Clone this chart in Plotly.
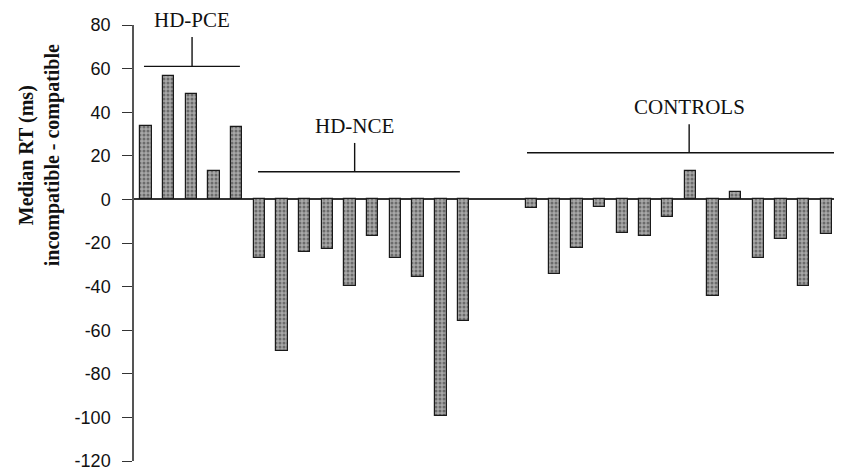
import plotly.graph_objects as go

# ---- data ----
group_names = ["HD-PCE", "HD-NCE", "CONTROLS"]
pce_values = [33.5, 56.5, 48.2, 13.0, 33.0]
nce_values = [-27.1, -69.5, -24.1, -22.7, -39.7, -17.0, -27.1, -35.8, -99.5, -55.6]
control_values = [-3.8, -34.0, -22.3, -3.3, -15.5, -17.0, -8.3, 13.0, -44.5, 3.5,
                  -27.0, -18.3, -39.7, -15.8]
y_ticks = [80, 60, 40, 20, 0, -20, -40, -60, -80, -100, -120]
y_title_lines = ["Median RT (ms)", "incompatible - compatible"]

groups = [pce_values, nce_values, control_values]
gaps_before = [0, 0, 2]  # empty slots before each group

# build slot positions
xs, ys, spans = [], [], []
pos = 0
for vals, gap in zip(groups, gaps_before):
    pos += gap
    start = pos
    for v in vals:
        xs.append(pos)
        ys.append(v)
        pos += 1
    spans.append((start, pos - 1))

x_min, x_max = -0.53, 30.69
y_min, y_max = -120, 80


def ypaper(v):
    return (v - y_min) / (y_max - y_min)


def xpaper(v):
    return (v - x_min) / (x_max - x_min)


fig = go.Figure()
fig.add_trace(go.Bar(
    x=xs, y=ys, width=0.5,
    marker=dict(
        color="#9a9a9a",
        line=dict(color="#1a1a1a", width=1.2),
        pattern=dict(shape=".", size=4, solidity=0.45,
                     fgcolor="#2e2e2e", bgcolor="#a8a8a8"),
    ),
    showlegend=False, hoverinfo="x+y",
))

# bracket layout: (left offset, right offset, line y, tick x, tick top, label y)
bracket_cfg = [
    (-0.09, 0.14, 61.0, 2.03, 74.5, 82.5),
    (-0.06, -0.16, 12.7, 9.2, 25.9, 33.5),
    (-0.2, None, 21.4, 23.95, 34.5, 42.5),
]
shapes = []
annotations = []
for name, (s, e), (lo, ro, ly, tx, tt, lab_y) in zip(group_names, spans, bracket_cfg):
    x0 = s + lo
    x1 = x_max if ro is None else e + ro
    shapes.append(dict(type="line", xref="x", yref="y", x0=x0, x1=x1, y0=ly, y1=ly,
                       line=dict(color="#111111", width=1.4)))
    shapes.append(dict(type="line", xref="x", yref="y", x0=tx, x1=tx, y0=ly, y1=tt,
                       line=dict(color="#111111", width=1.4)))
    annotations.append(dict(x=xpaper(tx), y=ypaper(lab_y), xref="paper", yref="paper",
                            text=name, showarrow=False, xanchor="center", yanchor="middle",
                            font=dict(family="Liberation Serif", size=21, color="#111111")))

# plot area is 708 px wide, 436 px tall
annotations.append(dict(x=-94.5 / 708, y=0.70, xref="paper", yref="paper",
                        text="<br>".join(f"<b>{t}</b>" for t in y_title_lines),
                        textangle=-90, showarrow=False,
                        xanchor="center", yanchor="middle",
                        font=dict(family="Liberation Serif", size=20, color="#111111")))

fig.update_layout(
    width=834, height=471,
    margin=dict(l=126, r=0, t=17, b=18, autoexpand=False),
    paper_bgcolor="white", plot_bgcolor="white",
    shapes=shapes, annotations=annotations,
    bargap=0,
    xaxis=dict(range=[x_min, x_max], visible=False, showgrid=False, zeroline=False,
               automargin=False),
    yaxis=dict(range=[y_min, y_max], tickvals=y_ticks, ticktext=[str(t) for t in y_ticks],
               automargin=False, ticklabeloverflow="allow",
               showgrid=False, zeroline=True, zerolinecolor="#333333", zerolinewidth=1.5,
               showline=True, linecolor="#555555", linewidth=1.5,
               ticks="outside", ticklen=10, tickwidth=1.2, tickcolor="#333333",
               tickfont=dict(family="Liberation Sans", size=18, color="#111111"),
               ticklabelstandoff=8),
)

fig.write_html("out.html")
